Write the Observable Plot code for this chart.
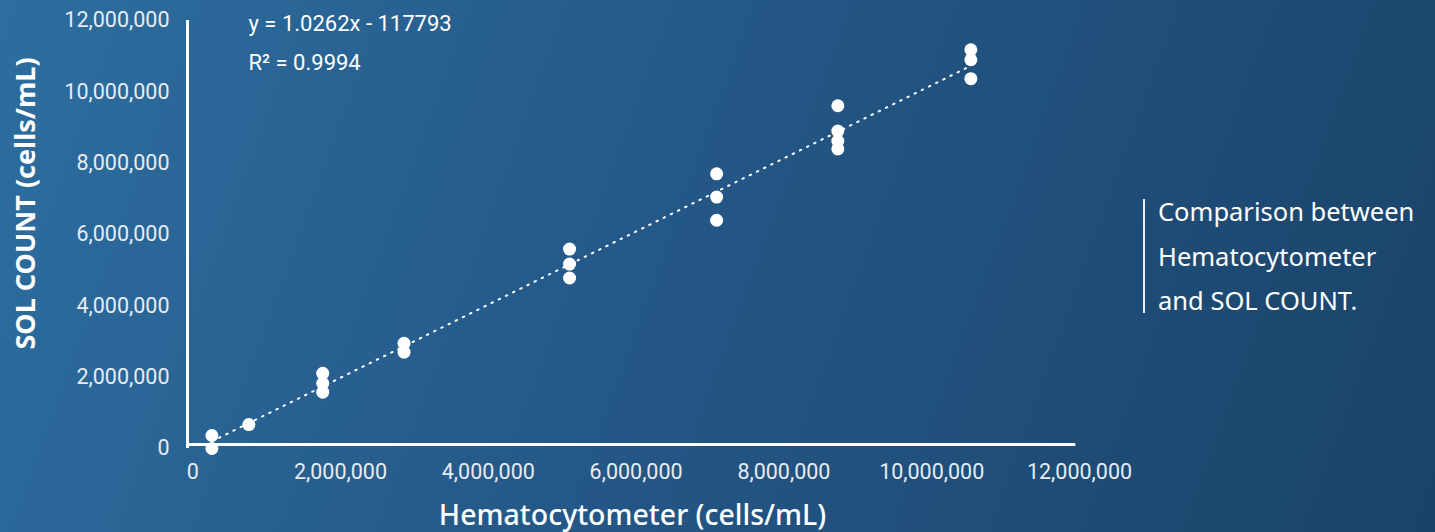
<!DOCTYPE html>
<html>
<head>
<meta charset="utf-8">
<script src="https://cdn.jsdelivr.net/npm/d3@7"></script>
<script src="https://cdn.jsdelivr.net/npm/@observablehq/plot@0.6"></script>
<style>
  html, body { margin: 0; padding: 0; }
  body {
    width: 1435px; height: 532px; overflow: hidden; position: relative;
    background: linear-gradient(110deg, #2d6e9f 0%, #245888 45%, #1a4368 100%);
    font-family: Roboto, "Noto Sans", sans-serif;
  }
  #chart { position: absolute; left: 0; top: 0; }
  #side {
    position: absolute; left: 1143px; top: 199px;
    border-left: 2px solid #e9eef4; padding-left: 13px;
    color: #ffffff; font-family: "Noto Sans", "Open Sans", sans-serif;
    font-size: 25.5px; line-height: 44.5px; height: 114px;
    display: flex; flex-direction: column; justify-content: center; white-space: nowrap;
  }
</style>
</head>
<body>
<div id="chart"></div>
<div id="side"></div>
<script>
// Hematocytometer (x) vs SOL COUNT (y), cells/mL
const hemato = [
  260000, 260000,
  760000,
  1760000, 1760000, 1760000,
  2860000, 2860000,
  5100000, 5100000, 5100000,
  7090000, 7090000, 7090000,
  8730000, 8730000, 8730000, 8730000,
  10530000, 10530000, 10530000
];
const solCount = [
  365000, 0,
  670000,
  2110000, 1830000, 1580000,
  2950000, 2700000,
  5590000, 5170000, 4780000,
  7700000, 7050000, 6400000,
  9610000, 8900000, 8620000, 8400000,
  11180000, 10900000, 10370000
];
const xTicks = [0, 2e6, 4e6, 6e6, 8e6, 10e6, 12e6];
const yTicks = [0, 2e6, 4e6, 6e6, 8e6, 10e6, 12e6];
const xTitle = "Hematocytometer (cells/mL)";
const yTitle = "SOL COUNT (cells/mL)";
const equationLines = ["y = 1.0262x - 117793", "R² = 0.9994"];
const sideNote = ["Comparison between", "Hematocytometer", "and SOL COUNT."];

document.getElementById("side").innerHTML = sideNote.join("<br>");

const data = hemato.map((x, i) => ({x, y: solCount[i]}));
const fmt = d3.format(",");
const white = "#ffffff";
const tickColor = "#e6ecf2";

const plot = Plot.plot({
  width: 1100,
  height: 532,
  marginLeft: 187,
  marginRight: 21,
  marginTop: 20,
  marginBottom: 84,
  style: {background: "transparent", color: tickColor, fontFamily: "Roboto, sans-serif", overflow: "visible"},
  x: {domain: [-70000, 12e6], ticks: xTicks},
  y: {domain: [0, 12e6], ticks: yTicks},
  marks: [
    Plot.axisY({ticks: yTicks, tickFormat: fmt, tickSize: 0, tickPadding: 18, fontSize: 21.5, fill: tickColor, label: null}),
    Plot.axisX({ticks: xTicks, tickFormat: fmt, tickSize: 0, tickPadding: 15, fontSize: 21.5, fill: tickColor, label: null}),
    Plot.text([yTitle], {frameAnchor: "left", textAnchor: "middle", rotate: -90, dx: -161, dy: -31, fill: white, fontSize: 27, fontWeight: "bold", fontFamily: "'Noto Sans', sans-serif"}),
    Plot.text([xTitle], {frameAnchor: "bottom", dy: 76, dx: -1, fill: white, fontSize: 28.5, fontWeight: 500, fontFamily: "'Noto Sans', sans-serif"}),
    Plot.ruleX([-70000], {y1: 0, y2: 12e6, stroke: white, strokeWidth: 3}),
    Plot.ruleY([0], {x1: -70000, x2: 11.95e6, dy: -4, stroke: white, strokeWidth: 3}),
    Plot.linearRegressionY(data, {x: "x", y: "y", ci: 0, stroke: white, strokeWidth: 2, strokeDasharray: "1.5 6.5", strokeLinecap: "round"}),
    Plot.dot(data, {x: "x", y: "y", r: 6.5, fill: white, stroke: "none"}),
    Plot.text([equationLines.join("\n")], {frameAnchor: "top-left", dx: 61, dy: -18, lineHeight: 1.8, fill: white, fontSize: 22, fontFamily: "Roboto, sans-serif"})
  ]
});
document.getElementById("chart").appendChild(plot);
</script>
</body>
</html>
